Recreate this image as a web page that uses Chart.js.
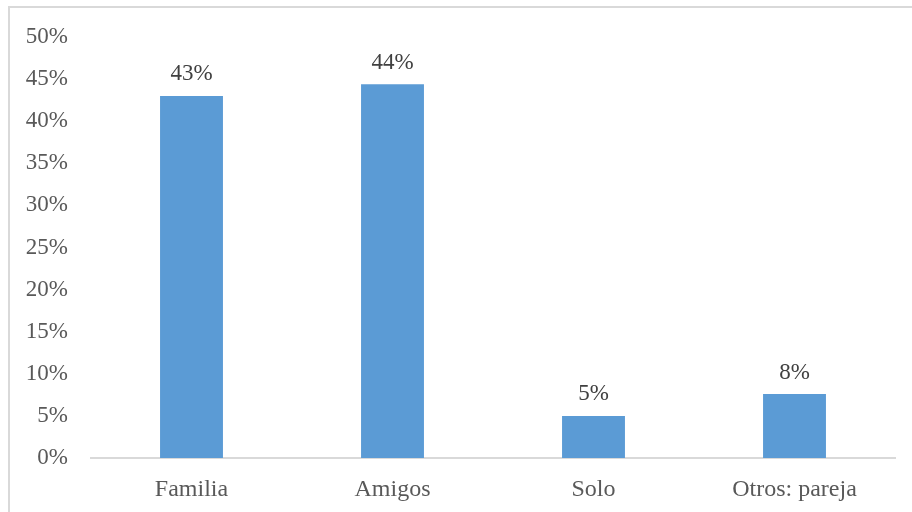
<!DOCTYPE html>
<html>
<head>
<meta charset="utf-8">
<script src="https://cdn.jsdelivr.net/npm/chart.js@4/dist/chart.umd.min.js"></script>
<style>
    body { margin: 0; background: #fff; }
    #wrap { position: relative; width: 912px; height: 512px; }
    #frame {
        position: absolute; left: 8px; top: 6px; width: 920px; height: 520px;
        border-left: 2px solid #d9d9d9; border-top: 2px solid #d9d9d9;
    }
    canvas { position: absolute; left: 0; top: 0; }
</style>
</head>
<body>
<div id="wrap">
    <div id="frame"></div>
    <canvas id="grafik" width="912" height="512"></canvas>
</div>
<script>
// Data grafik
const kategori = ['Familia', 'Amigos', 'Solo', 'Otros: pareja'];
const nilai = [43, 44.4, 5, 7.6];
const labelNilai = ['43%', '44%', '5%', '8%'];

const fontSerif = '"Liberation Serif", "Times New Roman", serif';

// Plugin untuk label di atas batang
const labelPlugin = {
    id: 'labelBatang',
    afterDatasetsDraw(chart) {
        const ctx = chart.ctx;
        const meta = chart.getDatasetMeta(0);
        ctx.save();
        ctx.font = '23px ' + fontSerif;
        ctx.fillStyle = '#404040';
        ctx.textAlign = 'center';
        ctx.textBaseline = 'bottom';
        meta.data.forEach(function (bar, i) {
            ctx.fillText(labelNilai[i], bar.x, bar.y - 10);
        });
        ctx.restore();
    }
};

const ctx = document.getElementById('grafik').getContext('2d');
new Chart(ctx, {
    type: 'bar',
    data: {
        labels: kategori,
        datasets: [{
            data: nilai,
            backgroundColor: '#5b9bd5',
            borderWidth: 0,
            categoryPercentage: 1,
            barPercentage: 0.313,
        }],
    },
    options: {
        responsive: false,
        animation: false,
        events: [],
        layout: { padding: { left: 10, right: 17, top: 37, bottom: 0 } },
        plugins: {
            legend: { display: false },
            tooltip: { enabled: false },
        },
        scales: {
            x: {
                grid: { display: false, drawTicks: false },
                border: { color: '#d9d9d9', width: 2 },
                ticks: {
                    color: '#595959',
                    font: { family: fontSerif, size: 24 },
                    padding: 17,
                },
                afterFit(scale) { scale.height = 54; },
            },
            y: {
                min: 0,
                max: 50,
                grid: { display: false, drawTicks: false },
                border: { display: false },
                ticks: {
                    stepSize: 5,
                    color: '#595959',
                    font: { family: fontSerif, size: 23 },
                    padding: 23,
                    callback: function (v) { return v + '%'; },
                },
                afterFit(scale) { scale.width = 81; },
            },
        },
    },
    plugins: [labelPlugin],
});
</script>
</body>
</html>
